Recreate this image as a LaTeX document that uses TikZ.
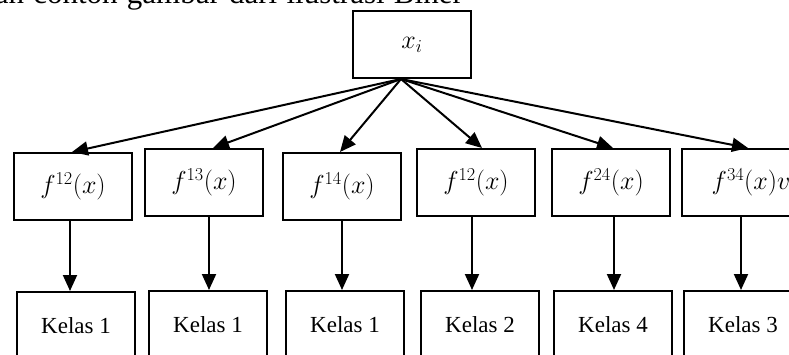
\documentclass[tikz,border=0pt]{standalone}
\usepackage{fix-cm}
\usepackage{fontspec}
\setmainfont{Liberation Serif}
\usetikzlibrary{arrows.meta}
\begin{document}
\begin{tikzpicture}[x=1pt,y=-1pt,
  box/.style={draw, line width=2pt, minimum width=118pt, minimum height=67pt, inner sep=0pt},
  fbox/.style={box, font=\fontsize{26}{30}\selectfont},
  kbox/.style={box, font=\fontsize{23}{27}\selectfont},
  arr/.style={line width=2pt, -{Triangle[length=16pt,width=14pt]}},
]
\useasboundingbox (0,0) rectangle (789,355);
\clip (0,0) rectangle (789,355);
\node[anchor=base east, font=\fontsize{31}{35}\selectfont, inner sep=0pt] (T) at (463,4) {\makebox[468pt][s]{an contoh gambar dari ilustrasi Biner}};
\node[fbox] (X) at (412,44.5) {$x_i$};
\node[fbox] (F1) at (73,186.5) {$f^{12}(x)$};
\node[fbox] (F2) at (204,182.5) {$f^{13}(x)$};
\node[fbox] (F3) at (342,186.5) {$f^{14}(x)$};
\node[fbox] (F4) at (476,182.5) {$f^{12}(x)$};
\node[fbox] (F5) at (611,182.5) {$f^{24}(x)$};
\node[fbox, minimum width=138pt] (F6) at (751,182.5) {$f^{34}(x)v$};
\node[kbox] (K1) at (76,325.5) {Kelas 1};
\node[kbox] (K2) at (208,324.5) {Kelas 1};
\node[kbox] (K3) at (345,324.5) {Kelas 1};
\node[kbox] (K4) at (480,324.5) {Kelas 2};
\node[kbox] (K5) at (613,324.5) {Kelas 4};
\node[kbox] (K6) at (743,324.5) {Kelas 3};
\coordinate (O) at ([xshift=-11pt]X.south);
\draw[arr] (O) -- ([xshift=-1pt]F1.north);
\draw[arr] (O) -- ([xshift=9pt]F2.north);
\draw[arr] (O) -- ([xshift=-2pt]F3.north);
\draw[arr] (O) -- ([xshift=6pt]F4.north);
\draw[arr] (O) -- ([xshift=2pt]F5.north);
\draw[arr] (O) -- ([xshift=-3pt]F6.north);
\draw[arr] ([xshift=-3pt]F1.south) -- ([xshift=-3pt]F1.south |- K1.north);
\draw[arr] ([xshift=5pt]F2.south) -- ([xshift=5pt]F2.south |- K2.north);
\draw[arr] (F3.south) -- (F3.south |- K3.north);
\draw[arr] ([xshift=-4pt]F4.south) -- ([xshift=-4pt]F4.south |- K4.north);
\draw[arr] ([xshift=3pt]F5.south) -- ([xshift=3pt]F5.south |- K5.north);
\draw[arr] ([xshift=-10pt]F6.south) -- ([xshift=-10pt]F6.south |- K6.north);
\end{tikzpicture}
\end{document}
